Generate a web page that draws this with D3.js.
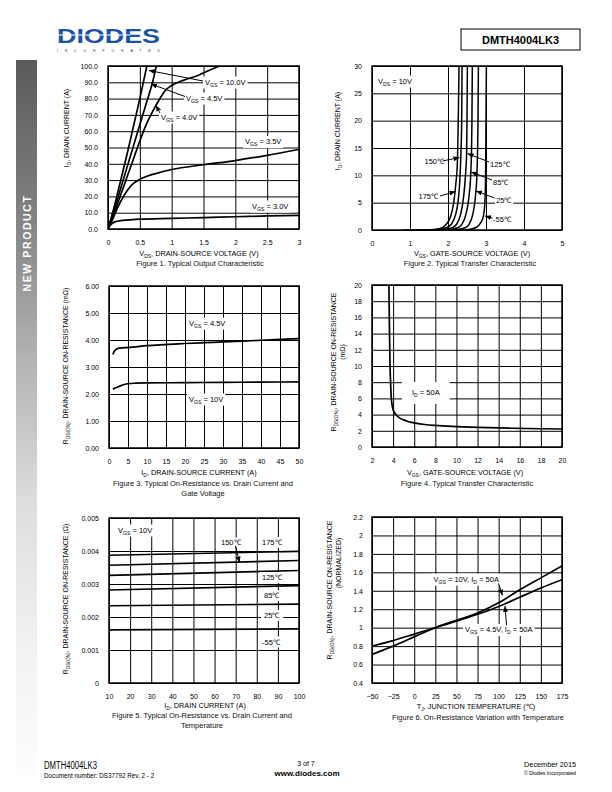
<!DOCTYPE html>
<html><head><meta charset="utf-8">
<script src="https://cdn.jsdelivr.net/npm/d3@7/dist/d3.min.js"></script>
<style>body{margin:0;background:#fff}svg{display:block}</style>
</head><body>
<script>
// ---------- DATA ----------
// Figure 1: Id vs Vds
const fig1XTicks = [0,0.5,1,1.5,2,2.5,3];
const fig1YTicks = [0,10,20,30,40,50,60,70,80,90,100];
const fig1Vgs10 = [[0,0],[0.1,14],[0.2,30],[0.3,46],[0.4,63],[0.5,80],[0.61,100]];
const fig1Vgs45 = [[0,0],[0.1,12],[0.2,25],[0.3,38],[0.4,51],[0.5,64],[0.6,77],[0.7,90],[0.76,100]];
const fig1Vgs40 = [[0,0],[0.1,10],[0.2,21],[0.3,32],[0.4,43],[0.5,54],[0.6,64],[0.7,72],[0.8,79],[0.9,85],[1.0,88],[1.2,91.5],[1.4,94],[1.6,97.5],[1.75,100]];
const fig1Vgs35 = [[0,0],[0.05,4],[0.1,8.5],[0.15,13],[0.2,17],[0.3,23.5],[0.4,28],[0.5,30.5],[0.6,32.2],[0.75,34],[1,36.5],[1.5,39.4],[2,42],[2.5,45.2],[3,48.8]];
const fig1Vgs30 = [[0,0],[0.03,2],[0.07,3.5],[0.12,4.5],[0.2,5.1],[0.3,5.5],[0.5,6],[1,6.5],[1.5,7],[2,7.5],[2.5,8],[3,8.4]];

// Figure 2: Id vs Vgs
const fig2XTicks = [0,1,2,3,4,5];
const fig2YTicks = [0,5,10,15,20,25,30];
const fig2T175 = [[0.85,0],[1.5,0.05],[1.8,0.3],[1.95,1],[2.07,2.5],[2.15,5],[2.2,8],[2.25,13],[2.27,20],[2.29,30]];
const fig2T150 = [[1.2,0],[1.7,0.1],[1.95,0.4],[2.08,1],[2.2,2.8],[2.27,5.5],[2.31,9],[2.34,14],[2.36,20],[2.37,30]];
const fig2T125 = [[1.5,0],[1.9,0.1],[2.1,0.4],[2.22,1],[2.33,2.8],[2.41,6],[2.46,10],[2.49,14],[2.5,20],[2.51,30]];
const fig2T85  = [[1.7,0],[2.05,0.1],[2.25,0.4],[2.36,1],[2.47,2.8],[2.55,6],[2.6,10.5],[2.62,15],[2.63,20],[2.64,30]];
const fig2T25  = [[1.9,0],[2.25,0.1],[2.45,0.4],[2.55,1],[2.65,2.8],[2.72,6],[2.76,10],[2.78,15],[2.79,20],[2.8,30]];
const fig2Tm55 = [[2.3,0],[2.55,0.1],[2.75,0.5],[2.85,1.2],[2.93,2.5],[2.97,5],[2.99,10],[3.0,20],[3.01,30]];

// Figure 3: Rds(on) vs Id
const fig3XTicks = [0,5,10,15,20,25,30,35,40,45,50];
const fig3YTicks = [0,1,2,3,4,5,6];
const fig3Vgs45 = [[1,3.47],[1.5,3.6],[2,3.67],[3,3.7],[5,3.72],[10,3.79],[20,3.87],[25,3.9],[30,3.93],[40,3.99],[50,4.05]];
const fig3Vgs10 = [[1,2.18],[2,2.24],[3,2.3],[4,2.35],[5,2.38],[7,2.4],[10,2.41],[20,2.42],[30,2.43],[40,2.44],[50,2.45]];

// Figure 4: Rds(on) vs Vgs
const fig4XTicks = [2,4,6,8,10,12,14,16,18,20];
const fig4YTicks = [0,2,4,6,8,10,12,14,16,18,20];
const fig4Id50 = [[3.6,20],[3.65,15],[3.7,10.5],[3.76,8],[3.82,6.2],[3.9,5.2],[4.0,4.6],[4.15,4.2],[4.3,3.95],[4.6,3.6],[5,3.35],[5.6,3.08],[6,2.98],[7,2.78],[8,2.66],[10,2.52],[12,2.42],[14,2.35],[16,2.3],[18,2.25],[20,2.22]];

// Figure 5: Rds(on) vs Id and temperature
const fig5XTicks = [10,20,30,40,50,60,70,80,90,100];
const fig5YTicks = [0,0.001,0.002,0.003,0.004,0.005];
const fig5T175 = [[10,0.00387],[100,0.00399]];
const fig5T150 = [[10,0.00357],[100,0.00371]];
const fig5T125 = [[10,0.00326],[100,0.00341]];
const fig5T85  = [[10,0.00282],[100,0.00295]];
const fig5T25  = [[10,0.00234],[100,0.00239]];
const fig5Tm55 = [[10,0.00161],[100,0.00164]];

// Figure 6: normalized Rds(on) vs Tj
const fig6XTicks = [-50,-25,0,25,50,75,100,125,150,175];
const fig6YTicks = [0.4,0.6,0.8,1,1.2,1.4,1.6,1.8,2,2.2];
const fig6Vgs10 = [[-50,0.71],[-25,0.80],[0,0.90],[25,1.0],[50,1.08],[75,1.16],[100,1.27],[125,1.41],[150,1.54],[175,1.67]];
const fig6Vgs45 = [[-50,0.80],[-25,0.86],[0,0.93],[25,1.0],[50,1.07],[75,1.145],[100,1.23],[125,1.33],[150,1.43],[175,1.52]];

// ---------- DRAWING ----------
const F = "'Liberation Sans', Arial, Helvetica, sans-serif";
const svg = d3.select("body").append("svg").attr("width",612).attr("height",792)
  .attr("font-family",F);
const defs = svg.append("defs");
defs.append("marker").attr("id","arr").attr("markerUnits","userSpaceOnUse")
  .attr("markerWidth",7).attr("markerHeight",6).attr("refX",6).attr("refY",2.5).attr("orient","auto")
  .append("path").attr("d","M0,0 L6,2.5 L0,5 Z").attr("fill","#000");
const grad = defs.append("linearGradient").attr("id","side").attr("x1",0).attr("y1",0).attr("x2",0).attr("y2",1);
[[0,"#5a5a5a"],[0.2,"#7e7e7e"],[0.42,"#b4b4b4"],[0.62,"#dedede"],[0.82,"#f2f2f2"],[1,"#fdfdfd"]]
  .forEach(s=>grad.append("stop").attr("offset",s[0]).attr("stop-color",s[1]));

// side bar
svg.append("rect").attr("x",16).attr("y",60).attr("width",21).attr("height",718).attr("fill","url(#side)");
svg.append("text").attr("transform","translate(31,243) rotate(-90)").attr("text-anchor","middle")
  .attr("font-size",10.5).attr("font-weight","bold").attr("letter-spacing",1.6).attr("fill","#fff").text("NEW PRODUCT");

// logo
svg.append("text").attr("x",57).attr("y",43).attr("font-size",21).attr("font-weight","bold")
  .attr("fill","#1c54a3").attr("textLength",103).attr("lengthAdjust","spacingAndGlyphs").text("DIODES");
svg.append("line").attr("x1",57).attr("x2",130).attr("y1",35).attr("y2",35).attr("stroke","#fff").attr("stroke-width",1.2);
svg.append("text").attr("x",57).attr("y",51.5).attr("font-size",3.6).attr("fill","#333")
  .attr("textLength",103).attr("lengthAdjust","spacing").text("INCORPORATED");
// part number box
svg.append("rect").attr("x",461).attr("y",29).attr("width",119).attr("height",21).attr("fill","none").attr("stroke","#000").attr("stroke-width",1);
svg.append("text").attr("x",520.5).attr("y",43.5).attr("text-anchor","middle").attr("font-size",11).attr("font-weight","bold").text("DMTH4004LK3");

// footer
svg.append("text").attr("x",44).attr("y",769).attr("font-size",10).attr("textLength",53).attr("lengthAdjust","spacingAndGlyphs").text("DMTH4004LK3");
svg.append("text").attr("x",44).attr("y",778).attr("font-size",6.3).text("Document number: DS37792  Rev. 2 - 2");
svg.append("text").attr("x",306).attr("y",766).attr("text-anchor","middle").attr("font-size",7).text("3 of 7");
svg.append("text").attr("x",307).attr("y",776).attr("text-anchor","middle").attr("font-size",8).attr("font-weight","bold").text("www.diodes.com");
svg.append("text").attr("x",576).attr("y",767).attr("text-anchor","end").attr("font-size",7.3).text("December 2015");
svg.append("text").attr("x",576).attr("y",775).attr("text-anchor","end").attr("font-size",5.2).text("© Diodes Incorporated");

let clipN = 0;
function panel(c){
  const g = svg.append("g");
  const x = d3.scaleLinear().domain(c.xd).range([c.x0,c.x1]);
  const y = d3.scaleLinear().domain(c.yd).range([c.y1,c.y0]);
  const st = a=>{a.select(".domain").remove();
    a.selectAll("line").attr("stroke","#000").attr("stroke-width",1);
    a.selectAll("text").attr("font-size",7).attr("font-family",F).attr("fill","#000");};
  g.append("g").attr("transform",`translate(0,${c.y1})`)
    .call(d3.axisBottom(x).tickValues(c.xt).tickFormat(c.xf).tickSize(-(c.y1-c.y0)).tickPadding(c.xpad||11)).call(st);
  g.append("g").attr("transform",`translate(${c.x0},0)`)
    .call(d3.axisLeft(y).tickValues(c.yt).tickFormat(c.yf).tickSize(-(c.x1-c.x0)).tickPadding(c.ypad||10)).call(st);
  const id = "clip"+(clipN++);
  defs.append("clipPath").attr("id",id).append("rect").attr("x",c.x0).attr("y",c.y0).attr("width",c.x1-c.x0).attr("height",c.y1-c.y0);
  const data = g.append("g").attr("clip-path",`url(#${id})`);
  g.append("rect").attr("x",c.x0).attr("y",c.y0).attr("width",c.x1-c.x0).attr("height",c.y1-c.y0)
    .attr("fill","none").attr("stroke","#000").attr("stroke-width",1.5);
  const over = g.append("g");
  const line = d3.line().x(d=>x(d[0])).y(d=>y(d[1])).curve(c.curve||d3.curveMonotoneX);
  return {g,x,y,data,over,line};
}
function series(p, arr, w){
  p.data.append("path").attr("d",p.line(arr)).attr("fill","none").attr("stroke","#000").attr("stroke-width",w||1.7).attr("stroke-linejoin","round");
}
// rich text: parts = ["V",["GS"]," = 10V"] (arrays are subscripts)
function rt(parent, x, y, parts, o){
  o = o||{};
  const fs = o.fs||7.5;
  const t = parent.append("text").attr("x",x).attr("y",y).attr("font-size",fs).attr("fill","#000");
  if(o.anchor) t.attr("text-anchor",o.anchor);
  if(o.transform) t.attr("transform",o.transform);
  let shifted=false;
  parts.forEach(pt=>{
    if(Array.isArray(pt)){
      t.append("tspan").attr("font-size",fs*0.68).attr("dy",shifted?0:fs*0.28).text(pt[0]);
      shifted=true;
    } else {
      const ts=t.append("tspan").text(pt);
      if(shifted){ts.attr("dy",-fs*0.28);shifted=false;}
    }
  });
  if(o.bg){
    const b=t.node().getBBox(); const pd=o.pad||[2,1];
    parent.insert("rect",()=>t.node()).attr("x",b.x-pd[0]).attr("y",b.y-pd[1]).attr("width",b.width+2*pd[0]).attr("height",b.height+2*pd[1]).attr("fill","#fff");
  }
  return t;
}
function arrow(parent,x1,y1,x2,y2){
  parent.append("line").attr("x1",x1).attr("y1",y1).attr("x2",x2).attr("y2",y2).attr("stroke","#000").attr("stroke-width",1).attr("marker-end","url(#arr)");
}
function ytitle(x,y,parts,fs){ rt(svg,0,0,parts,{fs:fs||7,anchor:"middle",transform:`translate(${x},${y}) rotate(-90)`}); }
function xtitle(x,y,parts){ rt(svg,x,y,parts,{fs:7.3,anchor:"middle"}); }
function caption(x,y,s){ svg.append("text").attr("x",x).attr("y",y).attr("text-anchor","middle").attr("font-size",7.5).attr("fill","#111").text(s); }

// ---- Figure 1 ----
{
  const p = panel({x0:108,x1:299,y0:66,y1:229,xd:[0,3],yd:[0,100],xt:fig1XTicks,yt:fig1YTicks,
    xf:d3.format(""),yf:d3.format(".1f"),curve:d3.curveMonotoneX});
  [fig1Vgs10,fig1Vgs45,fig1Vgs40,fig1Vgs35,fig1Vgs30].forEach(s=>series(p,s));
  rt(p.over,205,84.5,["V",["GS"]," = 10.0V"],{bg:true});
  rt(p.over,186,100.5,["V",["GS"]," = 4.5V"],{bg:true});
  rt(p.over,161,119.5,["V",["GS"]," = 4.0V"],{bg:true});
  rt(p.over,245,144,["V",["GS"]," = 3.5V"],{bg:true});
  rt(p.over,252,208.5,["V",["GS"]," = 3.0V"],{bg:true});
  arrow(p.over,203,81,149,70.5);
  arrow(p.over,185,96.5,151,84);
  arrow(p.over,160,113,156,105.5);
  ytitle(69,128,["I",["D"],", DRAIN CURRENT (A)"]);
  xtitle(199,255.5,["V",["DS"],", DRAIN-SOURCE VOLTAGE (V)"]);
  caption(200,266,"Figure 1. Typical Output Characteristic");
}
// ---- Figure 2 ----
{
  const p = panel({x0:372,x1:562,y0:66,y1:230,xd:[0,5],yd:[0,30],xt:fig2XTicks,yt:fig2YTicks,
    xf:d3.format("d"),yf:d3.format("d")});
  [fig2T175,fig2T150,fig2T125,fig2T85,fig2T25,fig2Tm55].forEach(s=>series(p,s,1.5));
  rt(p.over,378,83.5,["V",["DS"]," = 10V"],{bg:true});
  rt(p.over,424.5,164,["150℃"],{bg:true,pad:[1,0.5]});
  rt(p.over,418.5,199,["175℃"],{bg:true,pad:[1,0.5]});
  rt(p.over,490,167,["125℃"],{bg:true,pad:[1,0.5]});
  rt(p.over,493,185,["85℃"],{bg:true,pad:[1,0.5]});
  rt(p.over,496,203,["25℃"],{bg:true,pad:[1,0.5]});
  rt(p.over,493,221.5,["-55℃"],{bg:true,pad:[1,0.5]});
  arrow(p.over,442.5,161,459.5,157.5);
  arrow(p.over,440,196,455.5,191.5);
  arrow(p.over,489,162,467.5,153.5);
  arrow(p.over,492,180,471,172);
  arrow(p.over,494.5,198,476,191);
  arrow(p.over,492.5,218,485,216);
  ytitle(340,131,["I",["D"],", DRAIN CURRENT (A)"]);
  xtitle(472,255.5,["V",["GS"],", GATE-SOURCE VOLTAGE (V)"]);
  caption(470,266,"Figure 2. Typical Transfer Characteristic");
}
// ---- Figure 3 ----
{
  const p = panel({x0:109,x1:299,y0:286,y1:448,xd:[0,50],yd:[0,6],xt:fig3XTicks,yt:fig3YTicks,
    xf:d3.format("d"),yf:d3.format(".2f"),xpad:11.5});
  [fig3Vgs45,fig3Vgs10].forEach(s=>series(p,s));
  rt(p.over,189,325.5,["V",["GS"]," = 4.5V"],{bg:true});
  rt(p.over,189,401.5,["V",["GS"]," = 10V"],{bg:true});
  ytitle(68,366,["R",["DS(ON)"],", DRAIN-SOURCE ON-RESISTANCE (mΩ)"]);
  xtitle(199,475,["I",["D"],", DRAIN-SOURCE CURRENT (A)"]);
  caption(203,485.5,"Figure 3. Typical On-Resistance vs. Drain Current and");
  caption(203,495.5,"Gate Voltage");
}
// ---- Figure 4 ----
{
  const p = panel({x0:372,x1:562,y0:285,y1:447,xd:[2,20],yd:[0,20],xt:fig4XTicks,yt:fig4YTicks,
    xf:d3.format("d"),yf:d3.format("d"),xpad:11.5});
  series(p,fig4Id50);
  rt(p.over,412,395,["I",["D"]," = 50A"],{bg:true,pad:[10,6]});
  ytitle(336,362,["R",["DS(ON)"],", DRAIN-SOURCE ON-RESISTANCE"]);
  ytitle(345,352,["(mΩ)"]);
  xtitle(465,475,["V",["GS"],", GATE-SOURCE VOLTAGE (V)"]);
  caption(467,486,"Figure 4. Typical Transfer Characteristic");
}
// ---- Figure 5 ----
{
  const p = panel({x0:109,x1:299,y0:518,y1:683,xd:[10,100],yd:[0,0.005],xt:fig5XTicks,yt:fig5YTicks,
    xf:d3.format("d"),yf:d=>d===0?"0":d3.format(".3f")(d)});
  [fig5T175,fig5T150,fig5T125,fig5T85,fig5T25,fig5Tm55].forEach(s=>series(p,s,1.6));
  rt(p.over,118,532.5,["V",["GS"]," = 10V"],{bg:true});
  rt(p.over,221,545,["150℃"],{bg:true,pad:[1,0.5]});
  rt(p.over,262,545,["175℃"],{bg:true,pad:[2,1]});
  rt(p.over,262,580,["125℃"],{bg:true,pad:[2,1]});
  rt(p.over,264,598,["85℃"],{bg:true,pad:[2,1]});
  rt(p.over,264,618,["25℃"],{bg:true,pad:[3,1]});
  rt(p.over,262,644.5,["-55℃"],{bg:true,pad:[2,1]});
  arrow(p.over,235.5,546,239.5,562.5);
  ytitle(68,599,["R",["DS(ON)"],", DRAIN-SOURCE ON-RESISTANCE (Ω)"]);
  xtitle(205,708,["I",["D"],", DRAIN CURRENT (A)"]);
  caption(202,718,"Figure 5. Typical On-Resistance vs. Drain Current and");
  caption(202,728,"Temperature");
}
// ---- Figure 6 ----
{
  const p = panel({x0:372,x1:562,y0:517,y1:683,xd:[-50,175],yd:[0.4,2.2],xt:fig6XTicks,yt:fig6YTicks,
    xf:d3.format("d"),yf:d3.format(""),ypad:9,curve:d3.curveMonotoneX});
  [fig6Vgs10,fig6Vgs45].forEach(s=>series(p,s));
  rt(p.over,433.5,581.5,["V",["GS"]," = 10V, I",["D"]," = 50A"],{bg:true});
  rt(p.over,465,632,["V",["GS"]," = 4.5V, I",["D"]," = 50A"],{bg:true});
  arrow(p.over,498.5,583.5,502.5,595.5);
  arrow(p.over,506.5,625,505,606);
  ytitle(332,590,["R",["DS(ON)"],", DRAIN-SOURCE ON-RESISTANCE"]);
  ytitle(341,563,["(NORMALIZED)"]);
  xtitle(476,709,["T",["J"],", JUNCTION TEMPERATURE (℃)"]);
  caption(478,719.5,"Figure 6. On-Resistance Variation with Temperature");
}
</script>
</body></html>
